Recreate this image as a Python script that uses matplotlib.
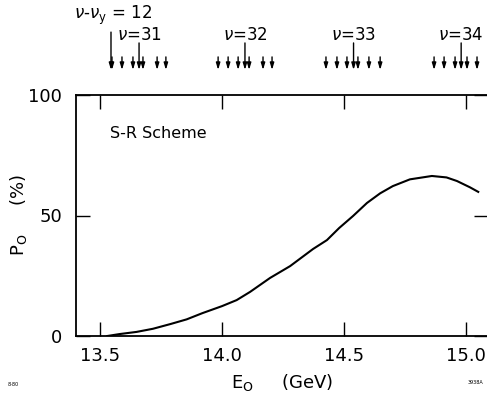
"""
polarization vs beam energy, S-R scheme, with depolarizing resonances marked on top
"""

import matplotlib.pyplot as plt

# curve
energy = [13.53, 13.58, 13.65, 13.717, 13.79, 13.855, 13.92, 14.0, 14.06, 14.115,
          14.197, 14.279, 14.373, 14.43, 14.48, 14.537, 14.594, 14.648, 14.70,
          14.77, 14.86, 14.92, 14.963, 15.016, 15.05]
polarization = [0.0, 0.8, 1.7, 3.0, 5.0, 6.9, 9.5, 12.4, 14.9, 18.3,
                24.1, 29.0, 36.1, 39.8, 44.8, 49.8, 55.2, 59.2, 62.2,
                65.0, 66.4, 65.8, 64.3, 61.7, 59.8]

# resonances (GeV)
nu_labels = ["31", "32", "33", "34"]
nu_energy = [13.660, 14.094, 14.539, 14.980]
sideband_energy = [13.549, 13.590, 13.635, 13.676, 13.734, 13.770,
                   13.984, 14.025, 14.066, 14.111, 14.168, 14.205,
                   14.426, 14.471, 14.512, 14.557, 14.602, 14.648,
                   14.869, 14.910, 14.955, 15.004, 15.045]
vert_energy = 13.545

xticks = [13.5, 14.0, 14.5, 15.0]
xtick_labels = ["13.5", "14.0", "14.5", "15.0"]
yticks = [0, 50, 100]


def main():
    plt.rcParams["font.family"] = "DejaVu Sans"
    fig = plt.figure(figsize=(4.87, 3.95), dpi=100)
    ax = fig.add_axes([76 / 487, 59 / 395, 412 / 487, 241 / 395])

    ax.plot(energy, polarization, color="black", lw=1.5)

    ax.set_xlim(13.4016, 15.090)
    ax.set_ylim(0, 100)
    ax.set_xticks(xticks)
    ax.set_xticklabels(xtick_labels)
    ax.set_yticks(yticks)
    ax.tick_params(direction="in", length=10, width=1.0, labelsize=13,
                   top=True, right=True, pad=8, color="black")
    ax.tick_params(axis="y", pad=10)
    for s in ax.spines.values():
        s.set_linewidth(1.3)

    ax.set_ylabel(r"$\mathregular{P_O}$     (%)", fontsize=13)
    ax.yaxis.set_label_coords(-0.115, 0.5)
    ax.set_xlabel(r"$\mathregular{E_O}$     (GeV)", fontsize=13)
    ax.xaxis.set_label_coords(0.5, -0.15)
    ax.text(13.54, 84, "S-R Scheme", fontsize=11.5, va="center")

    # resonance arrows above the frame
    trans = ax.get_xaxis_transform()
    arrow = dict(arrowstyle="-|>,head_length=0.5,head_width=0.15", color="black",
                 lw=1.0, shrinkA=0, shrinkB=0, mutation_scale=8)
    for e in sideband_energy:
        ax.annotate("", xy=(e, 1.104), xytext=(e, 1.158), xycoords=trans,
                    textcoords=trans, arrowprops=arrow, annotation_clip=False)
    for e, lab in zip(nu_energy, nu_labels):
        ax.annotate("", xy=(e, 1.104), xytext=(e, 1.216), xycoords=trans,
                    textcoords=trans, arrowprops=arrow, annotation_clip=False)
        ax.text(e, 1.249, r"$\nu$" + "=" + lab, transform=trans, ha="center",
                va="center", fontsize=12, clip_on=False)
    ax.annotate("", xy=(vert_energy, 1.104), xytext=(vert_energy, 1.261),
                xycoords=trans, textcoords=trans, arrowprops=arrow,
                annotation_clip=False)
    ax.text(13.393, 1.332, r"$\nu$" + "-" + r"$\nu_\mathregular{y}$" + " = 12",
            transform=trans, ha="left", va="center", fontsize=12, clip_on=False)

    # plate numbers
    fig.text(8 / 487, 1 - 384 / 395, "8-80", fontsize=3.5, va="center")
    fig.text(475 / 487, 1 - 382 / 395, "3938A", fontsize=3.5, va="center", ha="center")

    fig.savefig("out.png", dpi=100)


if __name__ == "__main__":
    main()
